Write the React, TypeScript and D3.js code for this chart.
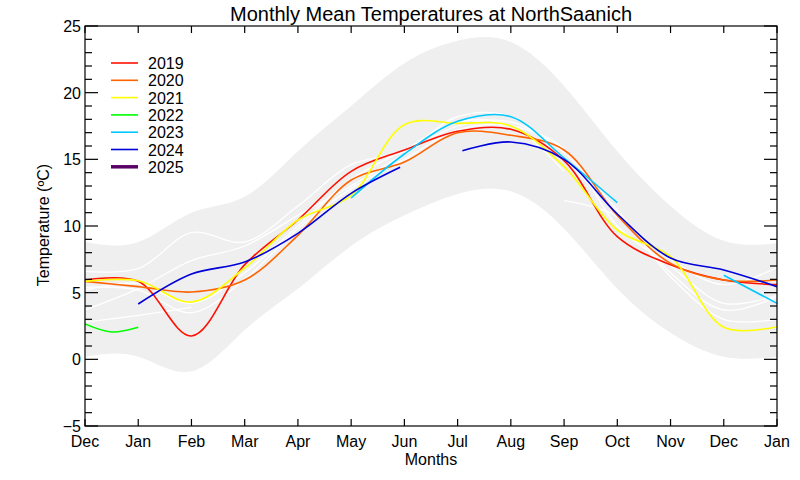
import React from "react";
import * as d3 from "d3";

const W = 800;
const H = 480;

const monthLabels = ["Dec", "Jan", "Feb", "Mar", "Apr", "May", "Jun", "Jul", "Aug", "Sep", "Oct", "Nov", "Dec", "Jan"];
const monthIdx = d3.range(14);
const yTicksMajor = [-5, 0, 5, 10, 15, 20, 25];

// climatological envelope (max / min)
const bandUpper = [8.8, 8.8, 11.0, 12.2, 15.6, 19.0, 22.2, 23.9, 23.8, 20.5, 15.6, 11.5, 8.9, 8.7];
const bandLower = [0.2, 0.2, -0.9, 2.2, 5.3, 8.5, 10.8, 12.4, 12.6, 9.8, 5.3, 2.0, 0.2, 0.2];

// historic years (white)
const hist1 = [6.6, 6.8, 9.5, 8.8, 11.5, 14.6, 15.6, 18.2, 18.2, 15.0, 11.0, 7.5, 5.6, 6.9];
const hist2 = [3.7, 5.3, 7.4, 8.5, 10.8, 13.0, 15.4, 17.5, 17.8, 15.5, 11.2, 6.5, 3.7, 4.7];
const hist3 = [5.4, 5.2, 3.5, 6.0, 9.8, 12.8, 15.0, 17.2, 17.5, 15.8, 10.0, 7.0, 4.2, 4.8];
const hist4 = [2.8, 3.3, 3.9, null, null, null, null, null, null, null, null, null, null, null];
const hist5 = [5.2, 5.7, 4.2, 6.5, 10.0, 13.5, 15.7, 17.8, 17.5, 14.1, null, null, null, null];
const hist6 = [null, null, null, null, null, null, null, null, null, 11.9, 10.7, 6.2, 3.0, 3.0];

// recent years
const years = ["2019", "2020", "2021", "2022", "2023", "2024", "2025"];
const colors = ["#ff1000", "#ff6400", "#ffff00", "#00ff00", "#00c8ff", "#0000d8", "#5a0068"];
const y2019 = [5.95, 5.85, 1.75, 7.1, 10.45, 14.1, 15.7, 17.1, 17.25, 14.9, 9.2, 7.1, 5.95, 5.6];
const y2020 = [5.85, 5.45, 5.05, 5.95, 9.3, 13.45, 14.8, 17.0, 16.8, 15.7, 10.8, 7.2, 5.95, 5.95];
const y2021 = [5.85, 5.9, 4.3, 6.85, 10.45, 12.3, 17.6, 17.7, 17.5, 14.45, 9.7, 7.7, 2.4, 2.45];
const x2022 = [0, 0.5, 1];
const y2022 = [2.65, 2.05, 2.4];
const y2023 = [null, null, null, null, null, 12.1, 15.4, 17.85, 18.2, 15.1, 11.75, null, 6.3, 4.2];
const x2024 = [1, 2, 3, 4, 5, 5.92, 6.5, 7.09, 8, 9, 10, 11, 12, 13];
const y2024 = [4.15, 6.4, 7.3, 9.45, 12.45, 14.4, null, 15.65, 16.3, 15.0, 10.9, 7.6, 6.7, 5.45];
const y2025: (number | null)[] = [];

const font = "'Liberation Sans', Arial, Helvetica, sans-serif";

export default function App() {
  const left = 85, right = 777, top = 26, bottom = 426;
  const x = d3.scaleLinear().domain([0, 13]).range([left, right]);
  const y = d3.scaleLinear().domain([-5, 25]).range([bottom, top]);

  type P = [number, number | null];
  const line = d3
    .line<P>()
    .defined((d) => d[1] !== null)
    .x((d) => x(d[0]))
    .y((d) => y(d[1] as number))
    .curve(d3.curveCatmullRom.alpha(0.5));

  const zip = (xs: number[], ys: (number | null)[]): P[] => ys.map((v, i) => [xs[i], v] as P);

  const area = d3
    .area<number>()
    .x((_, i) => x(monthIdx[i]))
    .y0((_, i) => y(bandLower[i]))
    .y1((d) => y(d))
    .curve(d3.curveNatural);

  const hist = [hist1, hist2, hist3, hist4, hist5, hist6];
  const series: P[][] = [
    zip(monthIdx, y2019),
    zip(monthIdx, y2020),
    zip(monthIdx, y2021),
    zip(x2022, y2022),
    zip(monthIdx, y2023),
    zip(x2024, y2024),
    zip(monthIdx, y2025),
  ];

  const minorTicks = d3.range(-5, 26, 1);

  return (
    <svg width={W} height={H} style={{ display: "block", position: "absolute", left: 0, top: 0 }} fontFamily={font}>
      <rect width={W} height={H} fill="#fff" />
      <text x={431} y={21} textAnchor="middle" fontSize={20}>
        Monthly Mean Temperatures at NorthSaanich
      </text>
      <defs>
        <clipPath id="plotclip">
          <rect x={left} y={top} width={right - left} height={bottom - top} />
        </clipPath>
      </defs>
      <g clipPath="url(#plotclip)">
        <path d={area(bandUpper) || ""} fill="#efefef" />
        {hist.map((h, i) => (
          <path key={i} d={line(zip(monthIdx, h)) || ""} fill="none" stroke="#fff" strokeWidth={1.3} />
        ))}
        {series.map((s, i) => (
          <path key={years[i]} d={line(s) || ""} fill="none" stroke={colors[i]} strokeWidth={i === 6 ? 3 : 1.6} />
        ))}
      </g>
      {/* frame */}
      <rect x={left} y={top} width={right - left} height={bottom - top} fill="none" stroke="#000" strokeWidth={1.2} />
      {/* y ticks */}
      {minorTicks.map((t) => {
        const major = t % 5 === 0;
        const len = major ? 13 : 7;
        return (
          <g key={t}>
            <line x1={left} x2={left + len} y1={y(t)} y2={y(t)} stroke="#000" strokeWidth={1.2} />
            <line x1={right} x2={right - len} y1={y(t)} y2={y(t)} stroke="#000" strokeWidth={1.2} />
          </g>
        );
      })}
      {yTicksMajor.map((t) => (
        <text key={t} x={81} y={y(t) + 6} textAnchor="end" fontSize={16}>
          {t < 0 ? "\u2212" + Math.abs(t) : t}
        </text>
      ))}
      {/* x ticks */}
      {monthIdx.map((m) => (
        <g key={m}>
          <line x1={x(m)} x2={x(m)} y1={top} y2={top + 7} stroke="#000" strokeWidth={1.2} />
          <line x1={x(m)} x2={x(m)} y1={bottom} y2={bottom - 7} stroke="#000" strokeWidth={1.2} />
          <text x={x(m)} y={447} textAnchor="middle" fontSize={16}>
            {monthLabels[m]}
          </text>
        </g>
      ))}
      <text x={431} y={465} textAnchor="middle" fontSize={16}>
        Months
      </text>
      <text transform={`translate(49,225) rotate(-90)`} textAnchor="middle" fontSize={16}>
        Temperature (ºC)
      </text>
      {/* legend */}
      {years.map((yr, i) => {
        const cy = 63 + i * 17.3;
        return (
          <g key={yr}>
            <line x1={111} x2={138} y1={cy} y2={cy} stroke={colors[i]} strokeWidth={i === 6 ? 3.5 : 1.6} />
            <text x={148} y={cy + 6} fontSize={16}>
              {yr}
            </text>
          </g>
        );
      })}
    </svg>
  );
}
